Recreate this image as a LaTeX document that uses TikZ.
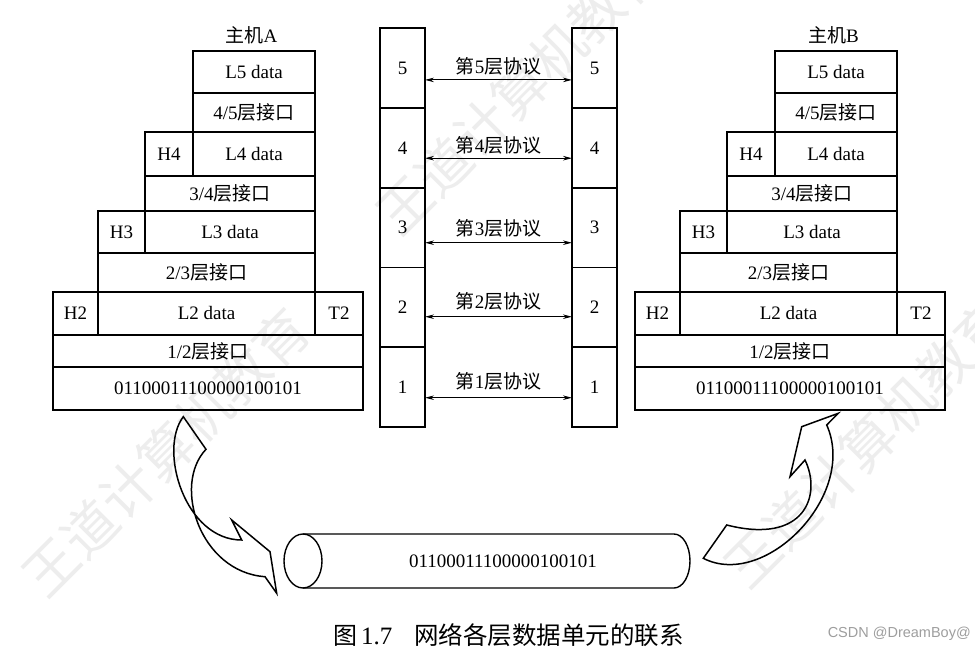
\documentclass[tikz,border=0pt]{standalone}
\usepackage{fontspec}
\setmainfont{Liberation Serif}
\newfontfamily\cjk{Noto Sans CJK SC}
\newfontfamily\wmsans{Liberation Sans}
\usetikzlibrary{arrows.meta}
\begin{document}
\begin{tikzpicture}[x=1pt,y=-1pt,
  box/.style={draw, line width=1.5pt, inner sep=0pt, outer sep=0pt, anchor=north west,
    font=\fontsize{19}{20}\selectfont},
  proto/.style={{Stealth[length=9pt,width=4.5pt]}-{Stealth[length=9pt,width=4.5pt]}, line width=0.9pt},
  lbl/.style={font=\fontsize{19}{20}\selectfont, inner sep=0pt},
  bendarrow/.style={line width=1.5pt, line join=miter},
  wm/.style={font=\cjk\fontsize{54}{54}\selectfont, text=black!7, rotate=45, inner sep=0pt}]
\useasboundingbox (0,0) rectangle (975,652);
\fill[white] (0,0) rectangle (975,652);

% watermarks
\node[wm] (wm1) at (166,452) {王道计算机教育};
\node[wm] (wm2) at (520,90) {王道计算机教育};
\node[wm] (wm3) at (868,443) {王道计算机教育};

% hosts A and B
\foreach \s/\p/\h in {0/a/A, 582/b/B}{
\begin{scope}[xshift=\s]
  \node[lbl] (\p title) at (251.5,35) {{\cjk 主机}\h};
  \node[box, minimum width=122pt, minimum height=42pt] (\p L5) at (193,51) {L5 data};
  \node[box, minimum width=122pt, minimum height=39pt] (\p I45) at (193,93) {4/5{\cjk 层接口}};
  \node[box, minimum width=48pt, minimum height=44pt] (\p H4) at (145,132) {H4};
  \node[box, minimum width=122pt, minimum height=44pt] (\p L4) at (193,132) {L4 data};
  \node[box, minimum width=170pt, minimum height=35pt] (\p I34) at (145,176) {3/4{\cjk 层接口}};
  \node[box, minimum width=47pt, minimum height=42pt] (\p H3) at (98,211) {H3};
  \node[box, minimum width=170pt, minimum height=42pt] (\p L3) at (145,211) {L3 data};
  \node[box, minimum width=217pt, minimum height=39pt] (\p I23) at (98,253) {2/3{\cjk 层接口}};
  \node[box, minimum width=45pt, minimum height=43pt] (\p H2) at (53,292) {H2};
  \node[box, minimum width=217pt, minimum height=43pt] (\p L2) at (98,292) {L2 data};
  \node[box, minimum width=48pt, minimum height=43pt] (\p T2) at (315,292) {T2};
  \node[box, minimum width=310pt, minimum height=32pt] (\p I12) at (53,335) {1/2{\cjk 层接口}};
  \node[box, minimum width=310pt, minimum height=43pt] (\p bits) at (53,367) {01100011100000100101};
\end{scope}
}

% middle protocol stacks
\foreach \i/\t/\o/\l in {5/28/12/13.3, 4/108/10.3/13.3, 3/187.5/15.3/14.7, 2/267.3/9.5/15, 1/347/10.8/16}{
  \node[box, minimum width=45pt, minimum height=79.8pt] (ml\i) at (380,\t) {\i};
  \node[box, minimum width=45pt, minimum height=79.8pt] (mr\i) at (572,\t) {\i};
  \draw[proto] ([yshift=-\o pt]ml\i.east) -- ([yshift=-\o pt]mr\i.west)
    node[midway, lbl, yshift=\l pt] (pl\i) {{\cjk 第}\i{\cjk 层协议}};
}

% cylinder (physical medium)
\draw[line width=1.4pt] (303,561) ellipse [x radius=19pt, y radius=27pt];
\draw[line width=1.4pt] (303,534) -- (674,534)
  arc[start angle=90, end angle=-90, x radius=16pt, y radius=27pt] -- (303,588);
\node[lbl] (cyl) at (503,561) {01100011100000100101};

% curved arrows
\draw[bendarrow] (183.3,416.7) .. controls (158,450) and (185,540) .. (241.7,540)
  -- (231.7,520) -- (270,551.7) -- (276.7,593.3) -- (265,576.7)
  .. controls (200,572) and (172,485) .. (206,449.3) -- cycle;
\draw[bendarrow] (838.3,413.3) -- (801.7,426.7) -- (790,476.7) -- (805,460)
  .. controls (822,495) and (805,545) .. (726.7,525) -- (703.3,558.3)
  .. controls (765,590) and (858,495) .. (826.7,425) -- cycle;

% caption
\node[anchor=west, inner sep=0pt] (cap) at (333,635)
  {{\cjk\fontsize{24}{25}\selectfont 图}\hspace{4pt}{\fontsize{25}{25}\selectfont 1.7}\hspace{22pt}{\cjk\fontsize{24.5}{25}\selectfont 网络各层数据单元的联系}};
\node[anchor=east, inner sep=0pt, text=black!38, font=\wmsans\fontsize{14.5}{15}\selectfont] (csdn) at (971,634) {CSDN @DreamBoy@};
\end{tikzpicture}
\end{document}
